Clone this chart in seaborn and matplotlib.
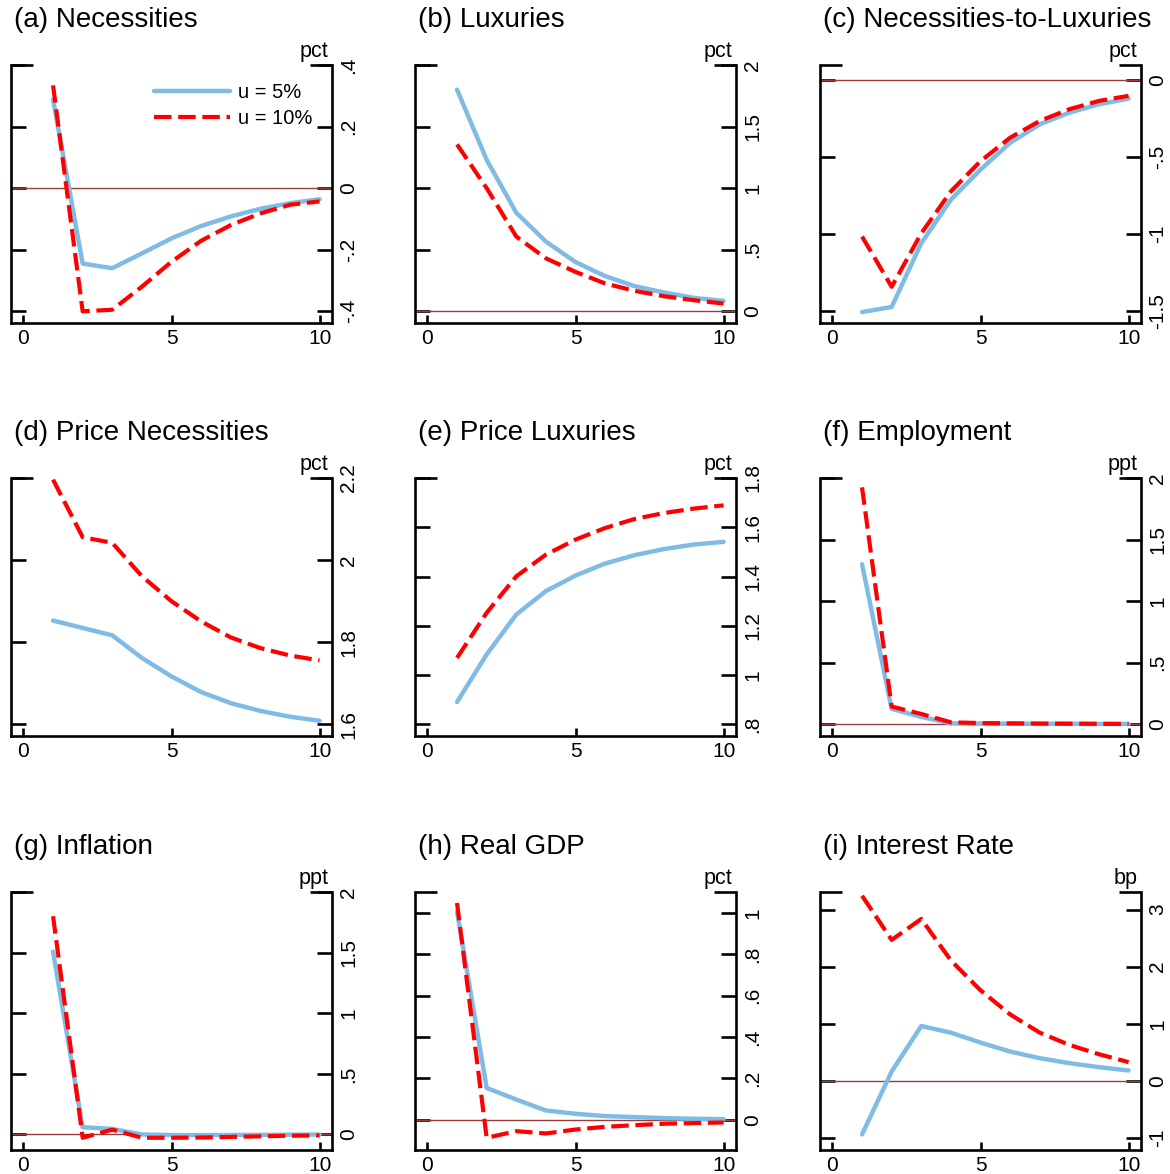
import matplotlib
import numpy as np
import pandas as pd

matplotlib.use("Agg")
import matplotlib.pyplot as plt
import seaborn as sns

# horizons (years after the shock)
horizon = list(range(1, 11))

# (a) Necessities
nec_u5 = [0.288, -0.245, -0.260, -0.212, -0.163, -0.123, -0.092, -0.067, -0.049, -0.036]
nec_u10 = [0.334, -0.400, -0.395, -0.320, -0.239, -0.171, -0.120, -0.082, -0.054, -0.043]
# (b) Luxuries
lux_u5 = [1.80, 1.23, 0.80, 0.566, 0.40, 0.286, 0.204, 0.152, 0.109, 0.084]
lux_u10 = [1.355, 1.00, 0.607, 0.43, 0.32, 0.226, 0.166, 0.122, 0.09, 0.063]
# (c) Necessities-to-Luxuries
ratio_u5 = [-1.507, -1.474, -1.06, -0.778, -0.583, -0.409, -0.289, -0.213, -0.159, -0.122]
ratio_u10 = [-1.017, -1.343, -0.996, -0.724, -0.528, -0.376, -0.267, -0.191, -0.137, -0.104]
# (d) Price Necessities
pnec_u5 = [1.853, 1.835, 1.817, 1.762, 1.717, 1.679, 1.652, 1.633, 1.619, 1.609]
pnec_u10 = [2.196, 2.056, 2.042, 1.961, 1.900, 1.851, 1.812, 1.786, 1.768, 1.756]
# (e) Price Luxuries
plux_u5 = [0.891, 1.084, 1.246, 1.341, 1.404, 1.453, 1.487, 1.512, 1.530, 1.541]
plux_u10 = [1.070, 1.253, 1.401, 1.489, 1.550, 1.597, 1.634, 1.658, 1.676, 1.689]
# (f) Employment
emp_u5 = [1.30, 0.125, 0.06, 0.008, 0.006, 0.005, 0.004, 0.004, 0.003, 0.003]
emp_u10 = [1.924, 0.144, 0.084, 0.016, 0.010, 0.008, 0.006, 0.005, 0.004, 0.003]
# (g) Inflation
infl_u5 = [1.508, 0.06, 0.046, 0.0, -0.005, -0.005, -0.004, -0.003, -0.002, -0.001]
infl_u10 = [1.80, -0.027, 0.04, -0.027, -0.027, -0.025, -0.020, -0.015, -0.010, -0.008]
# (h) Real GDP
gdp_u5 = [1.005, 0.154, 0.098, 0.045, 0.029, 0.018, 0.013, 0.008, 0.005, 0.003]
gdp_u10 = [1.048, -0.087, -0.055, -0.066, -0.047, -0.034, -0.026, -0.019, -0.016, -0.013]
# (i) Interest Rate
rate_u5 = [-0.942, 0.163, 0.959, 0.843, 0.669, 0.512, 0.395, 0.308, 0.238, 0.18]
rate_u10 = [3.244, 2.47, 2.837, 2.11, 1.587, 1.163, 0.843, 0.628, 0.465, 0.326]

titles = ["(a) Necessities", "(b) Luxuries", "(c) Necessities-to-Luxuries",
          "(d) Price Necessities", "(e) Price Luxuries", "(f) Employment",
          "(g) Inflation", "(h) Real GDP", "(i) Interest Rate"]
units = ["pct", "pct", "pct", "pct", "pct", "ppt", "ppt", "pct", "bp"]
series_u5 = [nec_u5, lux_u5, ratio_u5, pnec_u5, plux_u5, emp_u5, infl_u5, gdp_u5, rate_u5]
series_u10 = [nec_u10, lux_u10, ratio_u10, pnec_u10, plux_u10, emp_u10, infl_u10, gdp_u10, rate_u10]
yticks = [[-0.4, -0.2, 0, 0.2, 0.4], [0, 0.5, 1, 1.5, 2], [-1.5, -1, -0.5, 0],
          [1.6, 1.8, 2, 2.2], [0.8, 1, 1.2, 1.4, 1.6, 1.8], [0, 0.5, 1, 1.5, 2],
          [0, 0.5, 1, 1.5, 2], [0, 0.2, 0.4, 0.6, 0.8, 1], [-1, 0, 1, 2, 3]]
ylims = [(-0.438, 0.40), (-0.095, 2.0), (-1.578, 0.096), (1.572, 2.2), (0.753, 1.8),
         (-0.095, 2.0), (-0.128, 2.0), (-0.146, 1.101), (-1.215, 3.31)]
labels = ["u = 5%", "u = 10%"]

BLUE = "#80bbe6"
RED = "#ff0000"
ZERO = "#9b3b3b"


def stata_fmt(v):
    s = f"{v:g}"
    return s.replace("0.", ".") if abs(v) < 1 else s


sns.set_theme(style="ticks")
plt.rcParams["font.family"] = ["Liberation Sans", "DejaVu Sans"]
plt.rcParams.update({"text.color": "black", "xtick.color": "black",
                     "ytick.color": "black", "axes.labelcolor": "black"})

W, H = 1170, 1174
fig = plt.figure(figsize=(W / 100, H / 100), dpi=100)
col_left = [11, 415, 820]
row_top = [65, 478, 892]
aw, ah = 321, 258

for i in range(9):
    r, c = divmod(i, 3)
    ax = fig.add_axes([col_left[c] / W, 1 - (row_top[r] + ah) / H, aw / W, ah / H])
    lo, hi = ylims[i]
    if lo < 0 < hi:
        ax.axhline(0, color=ZERO, lw=1.0, zorder=1)
    sns.lineplot(x=horizon, y=series_u5[i], ax=ax, color=BLUE, linewidth=3.2,
                 label=labels[0], legend=False, zorder=3)
    sns.lineplot(x=horizon, y=series_u10[i], ax=ax, color=RED, linewidth=3.0,
                 linestyle=(0, (4.2, 1.6)), label=labels[1], legend=False, zorder=4)

    ax.set_xlim(-0.42, 10.42)
    ax.set_ylim(lo, hi)
    ax.set_xticks([0, 5, 10])
    ax.set_yticks(yticks[i])
    ax.set_yticklabels([stata_fmt(v) for v in yticks[i]])
    ax.set_xlabel("")
    ax.set_ylabel("")

    for side in ["left", "right", "bottom"]:
        ax.spines[side].set_visible(True)
        ax.spines[side].set_linewidth(1.9)
        ax.spines[side].set_color("black")
    ax.spines["top"].set_visible(False)
    # short stubs at the top corners of the frame
    ax.plot([0, 0.07], [1, 1], transform=ax.transAxes, color="black", lw=1.9,
            clip_on=False, solid_capstyle="butt")
    ax.plot([0.93, 1], [1, 1], transform=ax.transAxes, color="black", lw=1.9,
            clip_on=False, solid_capstyle="butt")

    ax.tick_params(axis="y", left=True, right=True, labelleft=False, labelright=True,
                   direction="in", length=11, width=1.9, labelsize=15, pad=5,
                   labelrotation=90)
    for t in ax.get_yticklabels():
        t.set_va("center")
        t.set_ha("left")
    ax.tick_params(axis="x", direction="in", length=6, width=1.9, labelsize=15, pad=4)
    ax.set_facecolor("white")

    ax.text(0.01, 1 + 38 / ah, titles[i], transform=ax.transAxes, fontsize=20,
            ha="left", va="baseline")
    ax.text(0.99, 1 + 8 / ah, units[i], transform=ax.transAxes, fontsize=15.5,
            ha="right", va="baseline")

    if i == 0:
        ax.legend(loc="upper left", bbox_to_anchor=(0.445, 0.93), frameon=False,
                  fontsize=14.5, handlelength=3.8, handletextpad=0.4,
                  labelspacing=0.35, borderpad=0, borderaxespad=0)

fig.savefig("out.png", dpi=100, facecolor="white")
